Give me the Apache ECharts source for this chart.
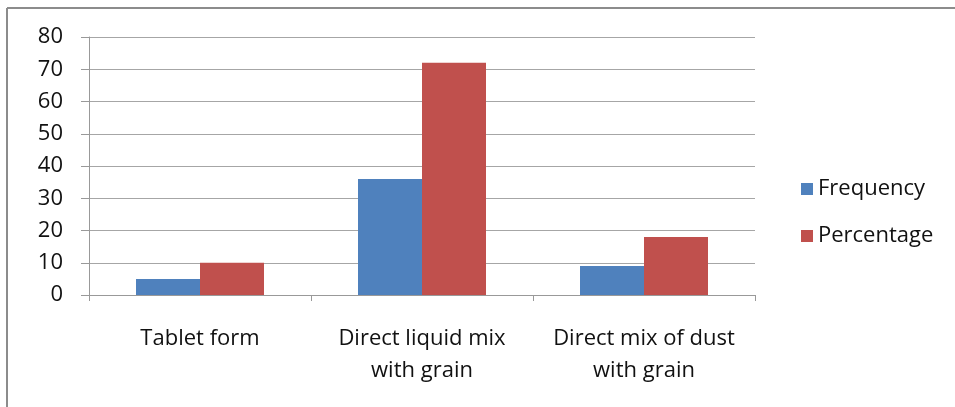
<!DOCTYPE html>
<html><head><meta charset="utf-8">
<script src="https://cdn.jsdelivr.net/npm/echarts@6/dist/echarts.min.js"></script>
<style>html,body{margin:0;padding:0;background:#fff}#c{width:955px;height:407px}</style>
</head><body><div id="c"></div>
<script>
const categories = ["Tablet form", "Direct liquid mix\nwith grain", "Direct mix of dust\nwith grain"];
const frequency = [5, 36, 9];
const percentage = [10, 72, 18];
const yTicks = [0, 10, 20, 30, 40, 50, 60, 70, 80];

const chart = echarts.init(document.getElementById('c'), null, {renderer: 'canvas'});
const font = '"Open Sans", "Liberation Sans", sans-serif';
chart.setOption({
  animation: false,
  backgroundColor: '#fff',
  graphic: [
    {type: 'line', shape: {x1: 7, y1: 8, x2: 955, y2: 8}, style: {stroke: '#8c8c8c', lineWidth: 2}},
    {type: 'line', shape: {x1: 7, y1: 8, x2: 7, y2: 407}, style: {stroke: '#8c8c8c', lineWidth: 2}}
  ],
  grid: {left: 89, right: 200, top: 37, bottom: 112, containLabel: false},
  legend: {
    orient: 'vertical', left: 796, top: 173, itemWidth: 12, itemHeight: 12, itemGap: 25,
    icon: 'rect',
    textStyle: {fontFamily: font, fontSize: 22, color: '#111'},
    data: ['Frequency', 'Percentage']
  },
  xAxis: {
    type: 'category', data: categories,
    axisLine: {lineStyle: {color: '#999', width: 1}},
    axisTick: {show: true, length: 6, lineStyle: {color: '#999'}, alignWithLabel: false},
    axisLabel: {fontFamily: font, fontSize: 22, color: '#111', margin: 28, lineHeight: 32, interval: 0}
  },
  yAxis: {
    type: 'value', min: yTicks[0], max: yTicks[yTicks.length - 1], interval: 10,
    axisLine: {show: true, lineStyle: {color: '#999'}},
    axisTick: {show: true, length: 8, lineStyle: {color: '#999'}},
    splitLine: {lineStyle: {color: '#a6a6a6', width: 1}},
    axisLabel: {fontFamily: font, fontSize: 22, color: '#111', margin: 26}
  },
  series: [
    {name: 'Frequency', type: 'bar', data: frequency, barWidth: 64, barGap: '0%',
     itemStyle: {color: '#4f81bd'}},
    {name: 'Percentage', type: 'bar', data: percentage, barWidth: 64,
     itemStyle: {color: '#c0504d'}}
  ]
});
</script></body></html>
